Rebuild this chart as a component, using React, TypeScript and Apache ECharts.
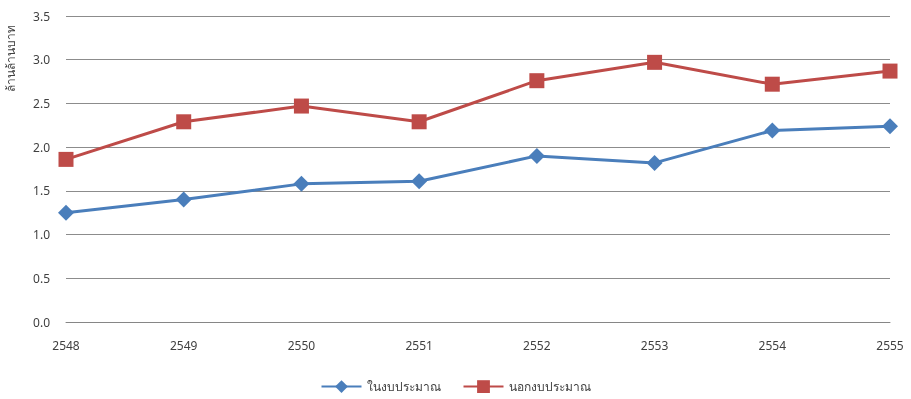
import React, { useEffect, useRef } from "react";
import * as echarts from "echarts";

const categories = ["2548", "2549", "2550", "2551", "2552", "2553", "2554", "2555"];
const inBudget = [1.25, 1.4, 1.58, 1.61, 1.9, 1.82, 2.19, 2.24];
const offBudget = [1.86, 2.29, 2.47, 2.29, 2.76, 2.97, 2.72, 2.87];
const seriesNames = ["ในงบประมาณ", "นอกงบประมาณ"];
const yTitle = "ล้านล้านบาท";

export default function App() {
  const ref = useRef<HTMLDivElement>(null);
  useEffect(() => {
    if (!ref.current) return;
    const chart = echarts.init(ref.current, null, { renderer: "svg" });
    const font = "'Noto Sans', 'DejaVu Sans', sans-serif";
    chart.setOption({
      animation: false,
      textStyle: { fontFamily: font },
      grid: { left: 66, right: 21, top: 16, bottom: 77, containLabel: false },
      xAxis: {
        type: "category",
        data: categories,
        boundaryGap: false,
        axisLine: { show: true, lineStyle: { color: "#868686", width: 1 } },
        axisTick: { show: false },
        axisLabel: { color: "#404040", fontSize: 12, margin: 17, fontFamily: font },
      },
      yAxis: {
        type: "value",
        min: 0,
        max: 3.5,
        interval: 0.5,
        axisLine: { show: false },
        axisTick: { show: false },
        splitLine: { lineStyle: { color: "#8c8c8c", width: 1 } },
        axisLabel: {
          color: "#404040",
          fontSize: 12,
          margin: 16,
          fontFamily: font,
          formatter: (v: number) => v.toFixed(1),
        },
      },
      legend: {
        bottom: 1,
        left: "center",
        itemWidth: 40,
        itemHeight: 16,
        itemGap: 22,
        textStyle: { color: "#404040", fontSize: 12, fontFamily: font },
        data: seriesNames,
      },
      graphic: [
        {
          type: "text",
          x: 10,
          y: 58,
          rotation: Math.PI / 2,
          style: {
            text: yTitle,
            fontSize: 12,
            fill: "#404040",
            fontFamily: font,
            align: "center",
            verticalAlign: "middle",
          },
        },
      ],
      series: [
        {
          name: seriesNames[0],
          type: "line",
          data: inBudget,
          symbol: "diamond",
          symbolSize: 16,
          lineStyle: { color: "#4a7ebb", width: 3 },
          itemStyle: { color: "#4a7ebb" },
        },
        {
          name: seriesNames[1],
          type: "line",
          data: offBudget,
          symbol: "rect",
          symbolSize: 15,
          lineStyle: { color: "#be4b48", width: 3 },
          itemStyle: { color: "#be4b48" },
        },
      ],
    });
    return () => chart.dispose();
  }, []);
  return (
    <div
      ref={ref}
      style={{ position: "fixed", left: 0, top: 0, width: 911, height: 399 }}
    />
  );
}
